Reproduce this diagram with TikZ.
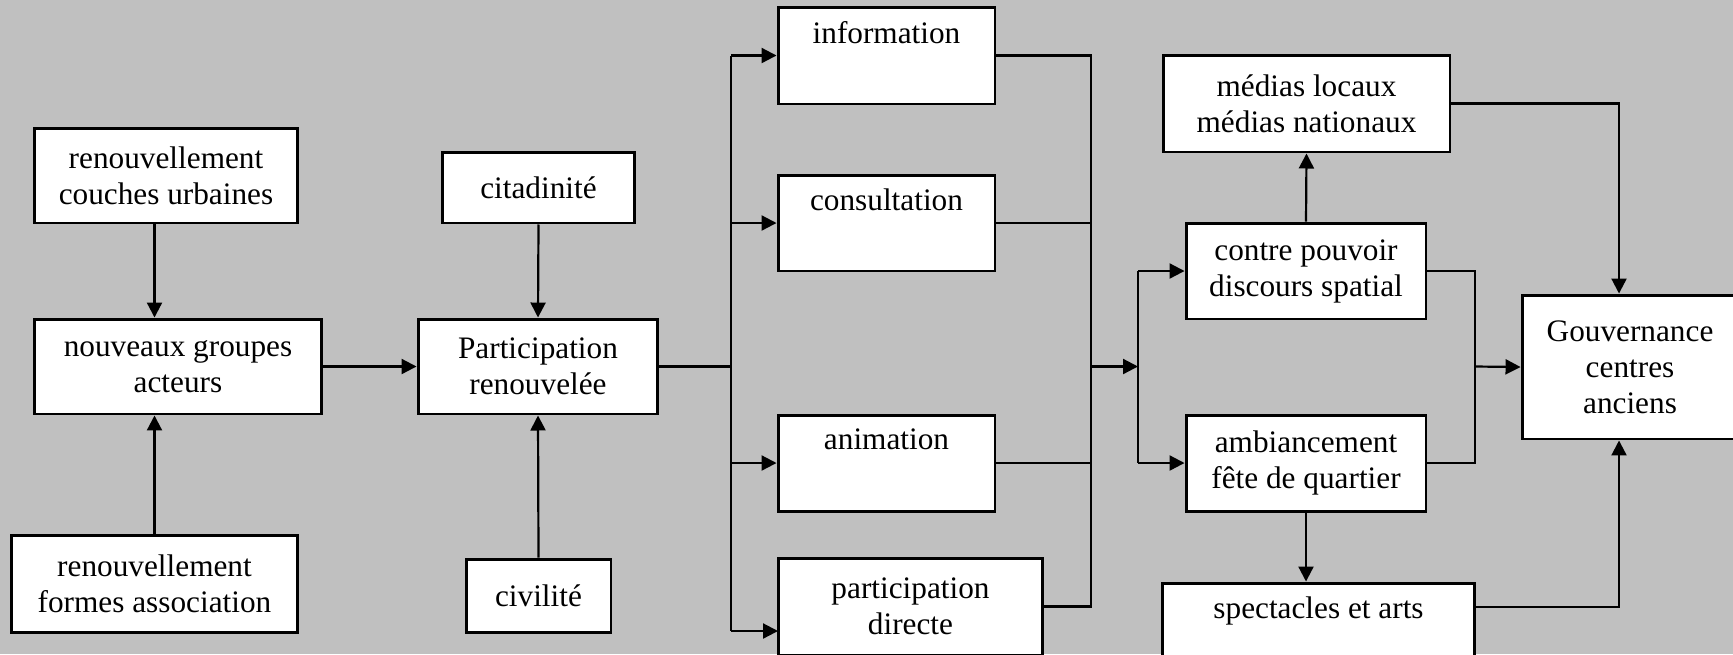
\documentclass[tikz,border=0pt]{standalone}
\usepackage{fontspec}
\setmainfont{Liberation Serif}
\usetikzlibrary{arrows.meta}
\definecolor{fond}{RGB}{192,192,192}

\begin{document}
\begin{tikzpicture}[x=0.02cm,y=-0.02cm,
  boite/.style={draw,fill=white,line width=1.7pt,align=center,inner sep=2pt,
    font=\fontsize{17.8}{20.5}\selectfont},
  fl/.style={line width=1.25pt,-{Triangle[length=0.3cm,width=0.3cm]}},
  tr/.style={line width=1.25pt}]
\clip (0,0) rectangle (1733,654);
\fill[fond] (0,0) rectangle (1733,654);

\node[boite,minimum width=5.28cm,minimum height=1.9cm] (couches) at (166,175.5) {renouvellement\\couches urbaines};
\node[boite,minimum width=5.76cm,minimum height=1.9cm] (groupes) at (178,366.5) {nouveaux groupes\\acteurs};
\node[boite,minimum width=5.74cm,minimum height=1.94cm] (formes) at (154.5,583.5) {renouvellement\\formes association};

\node[boite,minimum width=3.86cm,minimum height=1.42cm] (citad) at (538.5,187.5) {citadinité};
\node[boite,minimum width=4.8cm,minimum height=1.9cm] (partren) at (538,366.5) {Participation\\renouvelée};
\node[boite,minimum width=2.9cm,minimum height=1.46cm] (civil) at (538.5,595.5) {civilité};

\node[boite,minimum width=4.34cm,minimum height=1.94cm] (info) at (886.5,55.5) {information\\\strut};
\node[boite,minimum width=4.34cm,minimum height=1.92cm] (consult) at (886.5,223) {consultation\\\strut};
\node[boite,minimum width=4.34cm,minimum height=1.92cm] (anim) at (886.5,463) {animation\\\strut};
\node[boite,minimum width=5.3cm,minimum height=1.94cm] (pdir) at (910.5,606.5) {participation\\directe};

\node[boite,minimum width=5.74cm,minimum height=1.94cm] (medias) at (1306.5,103.5) {médias locaux\\médias nationaux};
\node[boite,minimum width=4.8cm,minimum height=1.92cm] (contre) at (1306,271) {contre pouvoir\\discours spatial};
\node[boite,minimum width=4.8cm,minimum height=1.92cm] (ambi) at (1306,463) {ambiancement\\fête de quartier};
\node[boite,minimum width=6.26cm,minimum height=1.94cm] (spect) at (1318.5,631.5) {spectacles et arts\\\strut};

\node[boite,minimum width=4.32cm,minimum height=2.88cm] (gouv) at (1630,367) {Gouvernance\\centres\\anciens};

\coordinate (b1) at (731,366.5);
\coordinate (b2) at (1091,366.5);
\coordinate (b3) at (1138,366.5);
\coordinate (b4) at (1475,366.5);
\coordinate (gx) at (1619,366.5);
\coordinate (pdirin) at (778,631);
\coordinate (spout) at (1475,607);

\draw[fl] (formes.north |- couches.south) -- (formes.north |- groupes.north);
\draw[fl] (formes.north) -- (formes.north |- groupes.south);
\draw[fl] (groupes.east) -- (partren.west);
\draw[fl] (citad.south) -- (partren.north);
\draw[fl] (civil.north) -- (partren.south);

\draw[tr] (partren.east) -- (b1);
\draw[tr] (b1 |- info.west) -- (b1 |- pdirin);
\draw[fl] (b1 |- info.west) -- (info.west);
\draw[fl] (b1 |- consult.west) -- (consult.west);
\draw[fl] (b1 |- anim.west) -- (anim.west);
\draw[fl] (b1 |- pdirin) -- (pdirin);

\draw[tr] (info.east) -- (b2 |- info.east) -- (b2 |- pdir.east) -- (pdir.east);
\draw[tr] (consult.east) -- (b2 |- consult.east);
\draw[tr] (anim.east) -- (b2 |- anim.east);
\draw[fl] (b2) -- (b3);

\draw[tr] (b3 |- contre.west) -- (b3 |- ambi.west);
\draw[fl] (b3 |- contre.west) -- (contre.west);
\draw[fl] (b3 |- ambi.west) -- (ambi.west);

\draw[tr] (contre.east) -- (b4 |- contre.east) -- (b4 |- ambi.east) -- (ambi.east);
\draw[fl] (b4) -- (gouv.west);

\draw[fl] (contre.north) -- (medias.south);
\draw[fl] (ambi.south) -- (ambi.south |- spect.north);

\draw[fl] (medias.east) -- (gx |- medias.east) -- (gx |- gouv.north);
\draw[fl] (spout) -- (gx |- spout) -- (gx |- gouv.south);
\end{tikzpicture}
\end{document}
